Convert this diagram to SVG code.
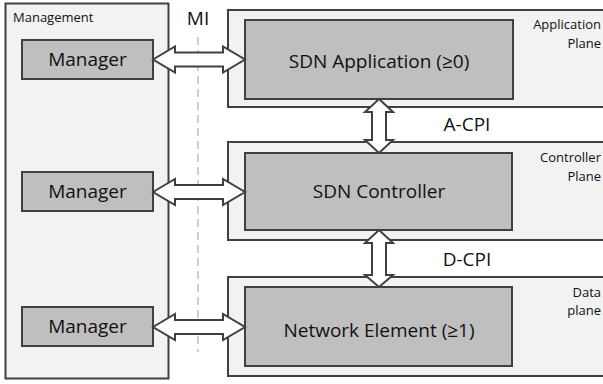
<svg xmlns="http://www.w3.org/2000/svg" width="603" height="384" viewBox="0 0 603 384">
<style>
.panel{fill:#f2f2f2;stroke:#404040;stroke-width:2}
.box{fill:#bfbfbf;stroke:#404040;stroke-width:2}
.arrow{fill:#ffffff;stroke:#404040;stroke-width:2;stroke-linejoin:miter}
.big{font-family:"Open Sans","Noto Sans",sans-serif;font-size:19px;fill:#111;text-anchor:middle}
.small{font-family:"Open Sans","Noto Sans",sans-serif;font-size:13px;fill:#111}
.end{text-anchor:end}
.mi{stroke:#c0c0c0;stroke-width:1.5;stroke-dasharray:8 5;fill:none}
</style>
<rect width="603" height="384" fill="#ffffff"/>
<g id="management">
<rect class="panel" x="5.5" y="3.5" width="163" height="375"/>
<text class="small" x="13" y="22">Management</text>
</g>
<g id="application-plane">
<rect class="panel" x="228" y="10" width="400" height="97"/>
<text class="small end" x="601" y="29">Application</text>
<text class="small end" x="601" y="48">Plane</text>
</g>
<g id="controller-plane">
<rect class="panel" x="228" y="142" width="400" height="98"/>
<text class="small end" x="601" y="162">Controller</text>
<text class="small end" x="601" y="181">Plane</text>
</g>
<g id="data-plane">
<rect class="panel" x="228" y="277" width="400" height="99"/>
<text class="small end" x="601" y="297">Data</text>
<text class="small end" x="601" y="315">plane</text>
</g>
<g id="mi">
<line class="mi" x1="198" y1="37" x2="198" y2="352"/>
<text class="big" x="198" y="25">MI</text>
</g>
<g id="manager1">
<rect class="box" x="22" y="40" width="131" height="39"/>
<text class="big" x="87.5" y="66">Manager</text>
</g>
<g id="manager2">
<rect class="box" x="22" y="172" width="131" height="39"/>
<text class="big" x="87.5" y="198">Manager</text>
</g>
<g id="manager3">
<rect class="box" x="22" y="307" width="131" height="39"/>
<text class="big" x="87.5" y="333">Manager</text>
</g>
<g id="sdn-application">
<rect class="box" x="245" y="20" width="268" height="79"/>
<text class="big" x="379" y="68">SDN Application (≥0)</text>
</g>
<g id="sdn-controller">
<rect class="box" x="245" y="153" width="267" height="77"/>
<text class="big" x="379" y="198">SDN Controller</text>
</g>
<g id="network-element">
<rect class="box" x="245" y="287" width="267" height="79"/>
<text class="big" x="379" y="337">Network Element (≥1)</text>
</g>
<g id="connectors">
<polygon class="arrow" points="153,59.5 175,46.5 175,52.5 223,52.5 223,46.5 245,59.5 223,72.5 223,66.5 175,66.5 175,72.5"/>
<polygon class="arrow" points="153,192 175,179 175,185 223,185 223,179 245,192 223,205 223,199 175,199 175,205"/>
<polygon class="arrow" points="153,327 175,314 175,320 223,320 223,314 245,327 223,340 223,334 175,334 175,340"/>
<polygon class="arrow" points="379,99 393,112 386,112 386,140 393,140 379,153 365,140 372,140 372,112 365,112"/>
<polygon class="arrow" points="379,230 393,243 386,243 386,275 393,275 379,287 365,275 372,275 372,243 365,243"/>
<text class="big" x="467" y="131">A-CPI</text>
<text class="big" x="467" y="266">D-CPI</text>
</g>
</svg>
